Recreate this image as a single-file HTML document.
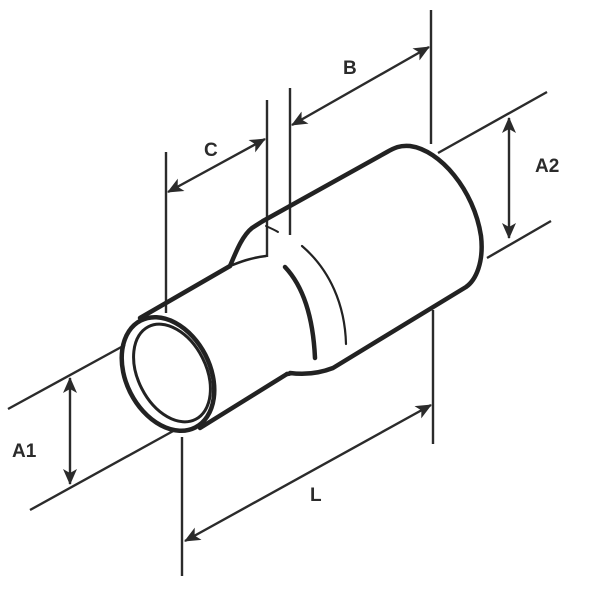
<!DOCTYPE html>
<html><head><style>html,body{margin:0;padding:0;background:#fff}svg{display:block}</style></head>
<body>
<svg width="600" height="591" viewBox="0 0 600 591" xmlns="http://www.w3.org/2000/svg">
<defs>
<marker id="ar" markerWidth="16" markerHeight="14" refX="15" refY="7" orient="auto-start-reverse" markerUnits="userSpaceOnUse">
<path d="M0,0 L16,7 L0,14 L4,7 Z" fill="#2b2b2b"/>
</marker>
</defs>
<g stroke="#2b2b2b" stroke-width="2.4" fill="none">
<line x1="8" y1="409" x2="125" y2="345"/>
<line x1="30" y1="510" x2="175" y2="430"/>
<line x1="438" y1="153" x2="547" y2="92"/>
<line x1="487" y1="258" x2="551" y2="221"/>
<line x1="431" y1="10" x2="431" y2="144"/>
<line x1="290" y1="88" x2="290" y2="235"/>
<line x1="166" y1="152" x2="166" y2="313"/>
<line x1="267" y1="100" x2="267" y2="257"/>
<line x1="182" y1="437" x2="182" y2="576"/>
<line x1="433" y1="310" x2="433" y2="444"/>
<line x1="70" y1="378" x2="70" y2="484" marker-start="url(#ar)" marker-end="url(#ar)"/>
<line x1="509" y1="118" x2="509" y2="238" marker-start="url(#ar)" marker-end="url(#ar)"/>
<line x1="292" y1="125" x2="429" y2="47" marker-start="url(#ar)" marker-end="url(#ar)"/>
<line x1="168" y1="192" x2="265" y2="139" marker-start="url(#ar)" marker-end="url(#ar)"/>
<line x1="185" y1="541" x2="431" y2="405" marker-start="url(#ar)" marker-end="url(#ar)"/>
</g>
<g stroke="#222" stroke-width="4.5" fill="none" stroke-linejoin="round" stroke-linecap="round">
<path d="M140,318 L230,266"/>
<path d="M200,428 L287,374"/>
<path d="M230,266 C236,252 242,236 252,228 L263,221"/>
<path d="M230,266 C240,262 250,258 266,256" stroke-width="2.5"/>
<path d="M266,226 C270,228 275,230 278,232" stroke-width="2"/>
<path d="M263,221 L387,152 C394,148 400,145 410,146 C440,150 474,190 481,236 C484,262 476,280 466,287 L333,368 C320,373 305,375 290,373 C290,374 288,374 287,374"/>
<path d="M285,267 C302,285 313,315 315,358"/>
<path d="M302,246 C330,270 345,305 346,344" stroke-width="2.2"/>
<ellipse cx="168" cy="374" rx="42" ry="60" transform="rotate(-27 168 374)"/>
<ellipse cx="172" cy="373" rx="34" ry="52" transform="rotate(-27 172 373)" stroke-width="3"/>
</g>
<g font-family="Liberation Sans, sans-serif" font-weight="bold" font-size="19" fill="#2b2b2b">
<text x="12" y="457">A1</text>
<text x="535" y="172">A2</text>
<text x="343" y="74">B</text>
<text x="204" y="156">C</text>
<text x="310" y="501">L</text>
</g>
</svg>
</body></html>
